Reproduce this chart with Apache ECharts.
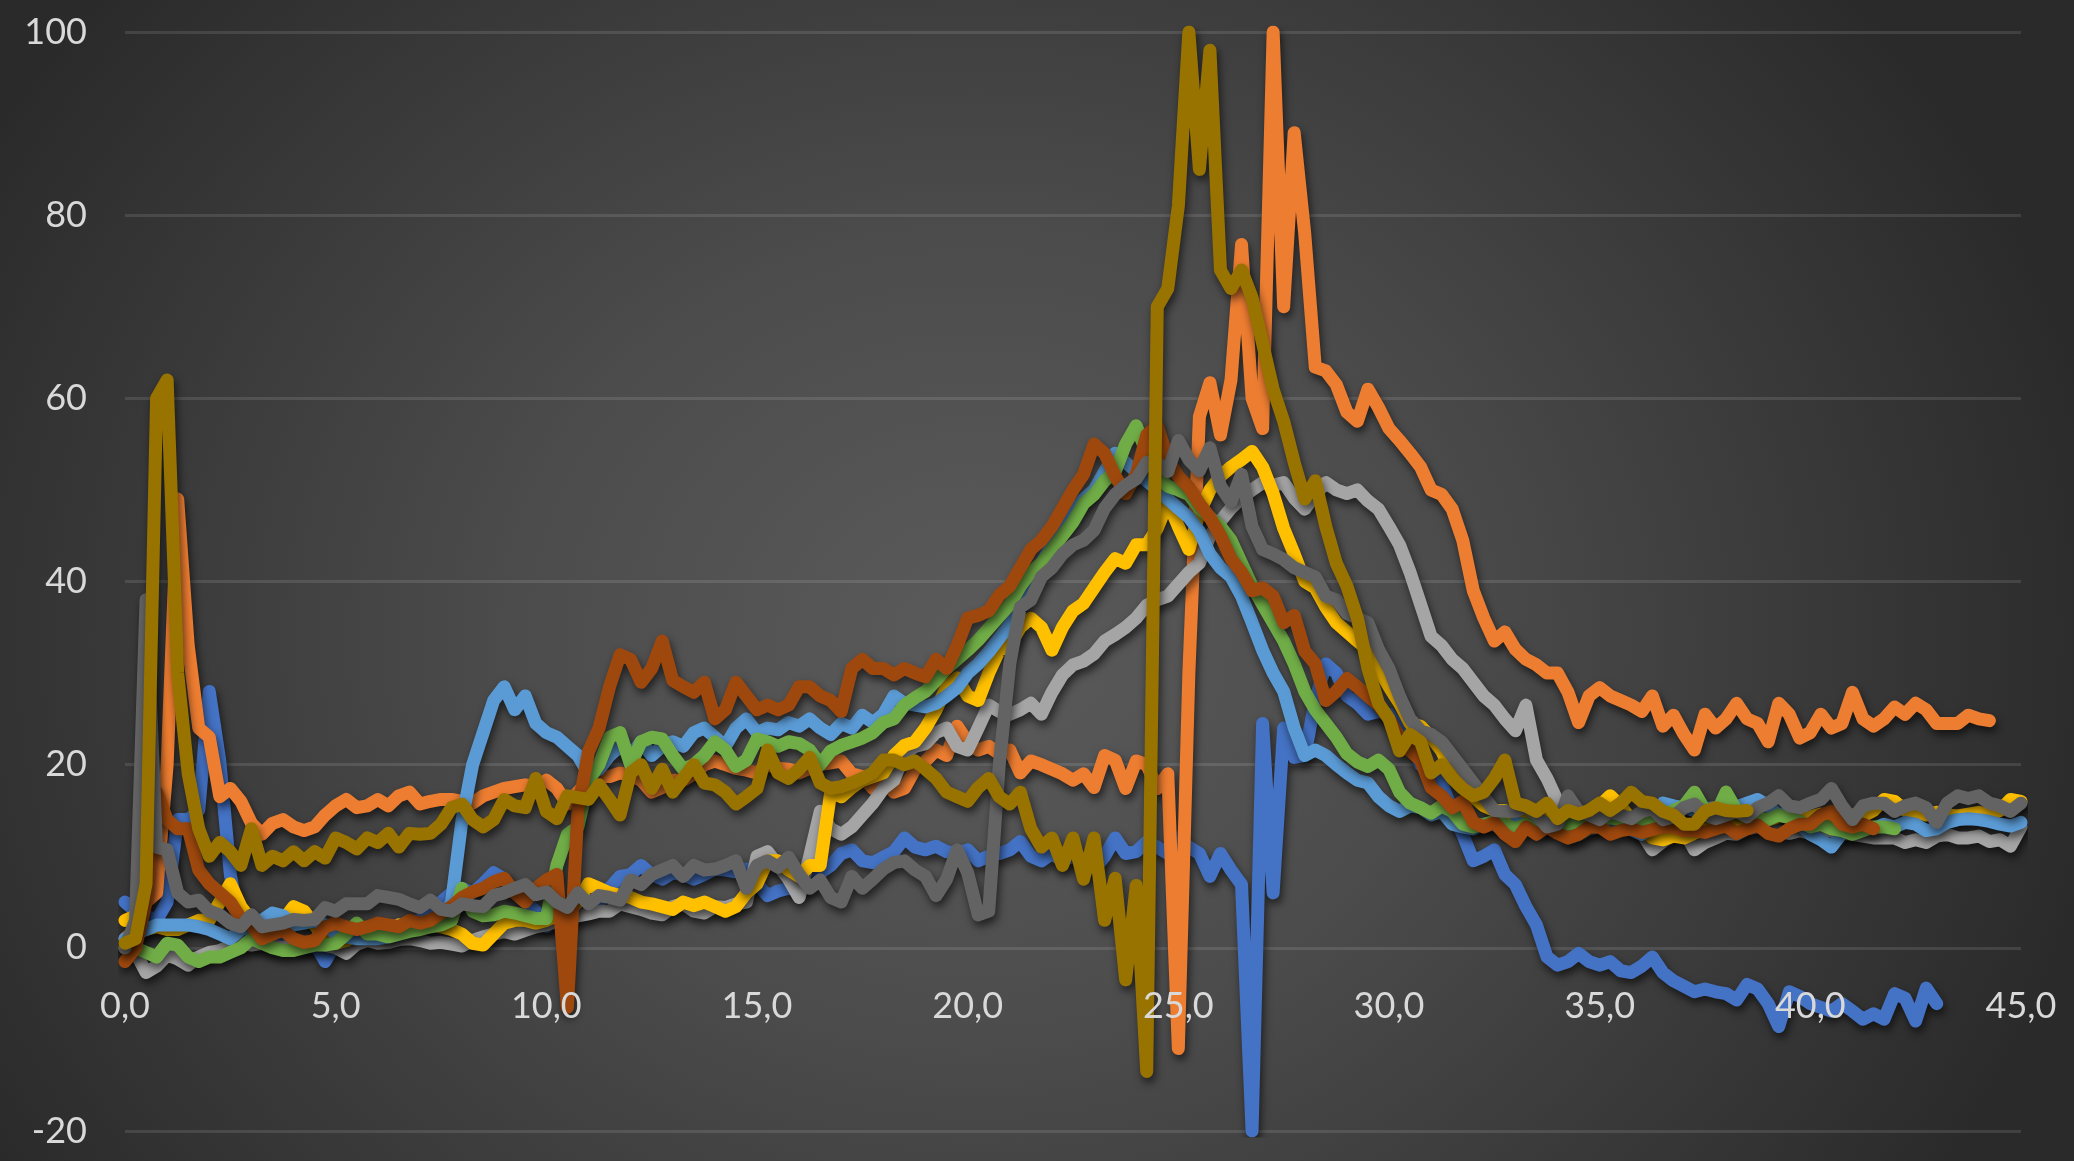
<!DOCTYPE html>
<html>
<head>
<meta charset="utf-8">
<title>Messreihen</title>
<script src="https://cdn.jsdelivr.net/npm/echarts@6/dist/echarts.min.js"></script>
<style>
  html, body { margin: 0; padding: 0; width: 2074px; height: 1161px; overflow: hidden; background: #2a2a2a; }
  #chart {
    width: 2074px; height: 1161px;
    background: radial-gradient(ellipse 1150px 1000px at 47% 55%, #5b5b5b 0%, #4c4c4c 40%, #2a2a2a 100%);
  }
</style>
</head>
<body>
<div id="chart"></div>
<script>
// Sampling interval of every series (seconds); sample i sits at t = i * STEP
const STEP = 0.25;

// Axis ranges and tick spacing
const X_RANGE = [0, 45, 5];
const Y_RANGE = [-20, 100, 20];

const seriesNames = ['Reihe1', 'Reihe2', 'Reihe3', 'Reihe4', 'Reihe5', 'Reihe6', 'Reihe8', 'Reihe9', 'Reihe10'];
const seriesColors = ['#4472C4', '#ED7D31', '#A5A5A5', '#FFC000', '#5B9BD5', '#70AD47', '#9E480E', '#636363', '#997300'];

// one row = 5 s of samples
const reihe1 = [
  5, 4, 3.5, 3, 5, 14, 14, 15, 28, 20.4, 8, 2, 1, 1.5, 0.5, 1, 0.5, 0, 0.5, -1.5,
  0.5, 1, 1.5, 1.2, 2, 2.3, 2.5, 2.8, 3, 4, 5, 6, 6.5, 6, 7, 8.2, 7.5, 6, 5, 4,
  2.3, 3, 3.5, 3.8, 4, 5, 6.5, 7.8, 8, 9, 8, 7.5, 8.2, 8, 7.5, 8, 8.6, 8.5, 8.3, 8.6,
  7, 5.7, 6.2, 6.5, 6.3, 7, 8.2, 9, 10.3, 10.7, 9.5, 9.3, 9.9, 10.5, 12, 11, 10.7, 11.1, 10.5, 10.3,
  10.7, 9.5, 10, 10.3, 10.7, 11.6, 10, 9.5, 10.3, 9.5, 10, 9.8, 8.6, 10, 12, 10.3, 10.5, 11.6, 11, 10.3,
  12, 11, 10.3, 7.8, 10.3, 8.5, 6.9, -20, 24.5, 6, 24, 20.8, 21, 27, 31, 30, 27.5, 26.7, 25.5, 25.8,
  25.5, 24, 23, 20, 19, 18, 15, 12.4, 9.5, 10, 10.7, 8, 6.9, 4.5, 2.5, -1, -1.9, -1.5, -0.6, -1.5,
  -1.9, -1.5, -2.5, -2.7, -2, -1, -2.7, -3.6, -4.2, -4.8, -4.5, -4.8, -5, -5.7, -4, -4.5, -6.1, -8.6, -4.8, -5.3,
  -6.1, -6.5, -6.9, -6.1, -6.9, -7.8, -7.2, -7.8, -5, -5.5, -8, -4.4, -6.1
];

const reihe2 = [
  1, 2, 5, 6, 20, 49, 33, 24, 23, 16.5, 17.4, 16, 13.6, 12.4, 13.6, 14, 13.2, 12.8, 13.2, 14.5,
  15.5, 16.2, 15.3, 15.5, 16.2, 15.5, 16.6, 17, 15.7, 16, 16.2, 16.2, 16, 15.8, 16.6, 17, 17.4, 17.6, 17.8, 17.6,
  18.3, 17.4, 15.7, 17, 18.3, 18.7, 18.7, 19.1, 18.8, 18.3, 17, 17.5, 18.3, 18.3, 19, 20, 20.4, 20, 19.6, 19.4,
  19.1, 20, 19.6, 19.5, 19.1, 19.6, 20, 20.2, 20.4, 19, 18.7, 17.4, 18.3, 17, 17.4, 19.5, 20.4, 21.6, 21, 24.2,
  22.5, 21.6, 22, 21.2, 21.6, 19.1, 20.4, 20, 19.5, 19, 18.3, 19, 17.5, 21, 20.5, 17.4, 20.4, 20, 17.4, 19,
  -11, 30, 58, 61.7, 56, 62, 76.8, 60, 56.7, 100, 70, 89, 78, 63.4, 63, 61.5, 58.5, 57.5, 61, 59,
  56.7, 55.4, 54, 52.5, 50, 49.5, 47.9, 44.5, 39, 36, 33.5, 34.5, 32.6, 31.5, 30.9, 30, 30, 27.9, 24.6, 27.5,
  28.4, 27.5, 27, 26.5, 25.8, 27.5, 24.2, 25.4, 23.3, 21.6, 25.5, 24, 25, 26.7, 25, 24.5, 22.5, 26.7, 25.5, 22.9,
  23.5, 25.5, 24, 24.5, 27.9, 25, 24.2, 25, 26.3, 25.5, 26.7, 26, 24.5, 24.5, 24.5, 25.4, 25, 24.8
];

const reihe3 = [
  0, -0.5, -2.7, -2, -0.8, -1.2, -1.9, -1, -0.5, -0.3, 0.2, 0.5, 0.3, 0.5, 0.2, 0, 0.4, 0.6, 0.5, 0.3,
  0, -0.6, 0.4, 0.8, 0.5, 0.6, 0.9, 1, 0.8, 0.5, 0.6, 0.4, 0.2, 0.8, 1.2, 1.5, 1.8, 1.5, 1.9, 2.3,
  2.5, 3, 3.3, 3.5, 3.7, 4, 4, 4.8, 4.5, 4.2, 3.8, 3.6, 4.5, 4.8, 4, 3.8, 4.5, 4.4, 4.8, 5,
  10, 10.5, 9, 7.5, 5.5, 10, 14.9, 13, 12.4, 13.2, 14.5, 15.8, 17.4, 18.3, 21.2, 22, 22.3, 23.5, 24, 22,
  21.6, 24, 26.5, 25.8, 25.5, 26, 26.7, 25.5, 27.9, 29.8, 30.9, 31.3, 32.1, 33.5, 34.2, 35, 36, 37.4, 38, 38.4,
  39.7, 41, 42, 45, 46.6, 48, 49.1, 50, 50.8, 50.5, 50.8, 49.1, 47.9, 49.5, 50.8, 50, 49.6, 50, 48.8, 47.9,
  46, 44, 41, 37.5, 34, 33, 31.5, 30.5, 29, 27.5, 26.5, 25, 23.7, 26.5, 20.5, 18.5, 16, 12, 12.4, 13,
  13.2, 13.5, 13.6, 13.5, 12.5, 10.7, 11.6, 12.4, 12.8, 10.7, 11.5, 12, 12.5, 12.4, 13, 13.2, 13, 12.8, 12.5, 12.8,
  12.5, 12.6, 12.8, 12.5, 12.4, 12.2, 12, 12, 12, 11.5, 11.8, 11.5, 12.2, 12.4, 12, 12, 12.2, 11.6, 11.8, 11.1, 13.2
];

const reihe4 = [
  3, 3.5, 2, 2.3, 2, 2, 2.5, 3, 3, 5, 7, 4.5, 3, 2.5, 2, 3, 4.5, 4, 2.5, 1,
  0.5, 0.8, 1.5, 2, 2, 1.5, 2.5, 2, 2.3, 2.5, 2.3, 2, 1.5, 0.5, 0.3, 1.5, 2.7, 3, 3, 2.7,
  3, 3.5, 4, 5, 7, 6.5, 6, 5.7, 5.5, 5, 4.8, 4.5, 4.2, 5, 4.6, 5, 4.5, 4, 4.5, 6,
  7, 9.5, 9.5, 8.5, 7.8, 9, 9, 17, 16.5, 17.5, 18.3, 18.7, 19.1, 21, 22.1, 22.5, 24, 26, 28.5, 29.5,
  27.5, 27, 30, 32.5, 33, 35, 36, 35, 32.5, 35, 36.8, 37.6, 39.3, 41, 42.5, 42, 44, 44, 45.8, 48.7,
  46, 43.5, 47.5, 50, 51.5, 52.5, 53.3, 54.2, 52.5, 49.6, 45.8, 43, 40, 39.3, 37.2, 35.5, 34.5, 33.5, 32.6, 30.5,
  28.5, 26.7, 24.5, 24.2, 23, 21.5, 19, 17.5, 16.5, 15.5, 15, 15, 14.5, 14.5, 14.2, 14, 13.6, 13.5, 14, 15,
  15.5, 16.6, 15.5, 14, 13, 12, 11.8, 12.2, 12, 12.5, 13, 13, 13.5, 13.5, 13.8, 14, 14, 14.3, 14.5, 14.2,
  14.3, 14.6, 14.5, 14.2, 14.5, 14.4, 15, 16.2, 16, 15, 14.8, 14.5, 14.8, 14.5, 14.4, 14.6, 14.8, 14.5, 15, 16.2, 16
];

const reihe5 = [
  1, 1.5, 2, 2.5, 2.5, 2.5, 2.5, 2.3, 2, 1.5, 1, 2, 2.5, 3, 3.8, 3.5, 2.5, 2.7, 3, 2.5,
  1.5, 1.2, 1, 1, 1, 1.2, 1.5, 2, 2.5, 3, 3, 5, 14, 20, 23.5, 27, 28.5, 26, 27.5, 24.5,
  23.5, 23, 22, 21, 19, 19.5, 21, 22, 21, 22.5, 21, 22, 22.5, 22, 23.5, 24, 23, 22, 24, 25,
  23.5, 24, 23.8, 24.6, 24.2, 25, 24, 23.3, 24.5, 24, 25.4, 24.6, 25.5, 27.5, 26.7, 26.5, 26.3, 26.7, 27.5, 28.4,
  30, 31, 32.3, 33.8, 35.3, 37.5, 40, 42, 44, 46, 47.5, 49, 50, 52, 54, 53, 52, 51, 50, 49,
  48, 47, 45.5, 43, 41.5, 40.5, 38.4, 35.5, 32.5, 30, 28, 24, 21, 21.6, 21, 20, 19.1, 18.3, 18, 16.5,
  15.5, 14.9, 15.5, 15.3, 14.5, 14.9, 13.5, 13.2, 13, 13.5, 13.4, 13, 13.6, 13.5, 13.2, 13.6, 13.8, 13.5, 14, 14,
  13.6, 13.8, 13.5, 12.9, 12.4, 14, 15.8, 15.5, 15.3, 15, 15.2, 15.3, 15, 15.4, 15.8, 16.2, 15.5, 14.5, 14.8, 13.5,
  12.4, 11.8, 11, 12.5, 13, 13.2, 13, 13.5, 13.2, 13.7, 13.5, 12.8, 13, 13.7, 14, 14.1, 14, 13.8, 13.5, 13.3, 13.7
];

const reihe6 = [
  0, 0, -0.5, -1, 0.5, 0.3, -1, -1.5, -1, -1, -0.5, 0, 1, 0.5, 0, -0.3, -0.3, 0, 0.3, 0.3,
  0.5, 1.5, 2.7, 1.5, 1.5, 1.2, 1.5, 1.8, 2, 2.3, 2.5, 3, 6.5, 4, 3.5, 3.6, 4, 3.8, 3.5, 3.2,
  3.2, 9, 12.4, 13.2, 18.3, 20, 23, 23.5, 20, 22.5, 23, 22.8, 21, 19.5, 20, 21, 22.5, 21.6, 19.8, 20.5,
  22.8, 22.5, 22, 22.5, 22.3, 21.6, 20, 21.5, 22.1, 22.5, 22.9, 23.5, 24.6, 25, 26.5, 27.3, 28, 29.2, 30.5, 31.5,
  32.5, 33.6, 34.9, 36.2, 37.5, 39.5, 41, 42, 43.5, 45, 46.5, 48.5, 49.5, 51, 52, 55, 57, 54, 51.5, 50.4,
  50, 49.5, 48, 47, 46, 44.5, 42, 39.5, 37.5, 35.5, 33.5, 31, 28, 26, 24.5, 23, 21.2, 20.3, 19.8, 20.5,
  19.5, 17, 15.8, 15.3, 14.7, 15.5, 14.9, 13.5, 13.2, 13.5, 13.8, 13.5, 13, 13.5, 13.4, 13.2, 13.6, 13.5, 13.8, 13.6,
  14, 14.2, 14, 14.3, 14, 14.2, 14.5, 15, 15.5, 17, 15, 14.5, 17, 15, 14.5, 14.2, 14, 14.5, 14.2, 13.8,
  13.2, 13.5, 13, 12.8, 12.4, 12.8, 13.2, 13.2, 13
];

const reihe8 = [
  -1.5, 0, 5, 17, 14, 13, 13, 8.5, 7, 6, 5, 3.2, 2.5, 1, 1.5, 1.9, 1, 0.6, 0.8, 2.3,
  2.7, 2.3, 2, 2.3, 2.7, 2.5, 2.3, 3, 2.7, 3, 3.8, 4.5, 5.5, 6.1, 6.5, 7.2, 7.6, 6, 5, 6.5,
  7.4, 8, -6.5, 15, 21.4, 24, 28.5, 32, 31.5, 29, 30.5, 33.5, 29.2, 28.5, 27.9, 29, 25, 26, 29, 27.5,
  26, 26.5, 26, 26.5, 28.5, 28.5, 27.5, 27, 25.8, 30.5, 31.5, 30.5, 30.5, 29.8, 30.5, 30, 29.6, 31.5, 30.5, 33,
  36, 36.3, 36.8, 38.5, 39.5, 41.5, 43.5, 44.5, 46, 48, 50, 51.7, 55, 54, 51.5, 49.6, 51.7, 56, 57, 53.4,
  51.5, 50.3, 48.5, 47, 45, 42.5, 41, 39, 39.3, 38.4, 35.5, 36.3, 32.4, 31, 27, 28, 29.4, 28.5, 27.5, 26.5,
  25, 23, 21.5, 20.5, 17.5, 16.6, 15.3, 16, 13.7, 13.2, 13.7, 12.4, 11.6, 13.2, 12.4, 13.2, 12.5, 12, 12.4, 13.2,
  13.2, 12.4, 12.8, 13, 12.6, 12.9, 13.2, 13.2, 12.8, 12.8, 12.6, 13, 13.3, 12.5, 13, 13.4, 12.5, 12.2, 13, 13.5,
  13.5, 14.5, 14.9, 13.5, 13.2, 13.5, 13
];

const reihe9 = [
  0, 3, 38, 11, 10.7, 6, 5, 5.2, 4, 3.6, 2.7, 2.3, 3.6, 2.3, 2.5, 2.7, 3.1, 3, 3.1, 4.4,
  4, 4.8, 4.8, 4.8, 5.7, 5.5, 5.3, 4.8, 4.4, 5.2, 4.2, 4, 4.8, 4.6, 4.5, 5.7, 6, 6.5, 6.9, 5.8,
  6.1, 5, 4.4, 6, 4.8, 5.7, 5.5, 5.2, 7.4, 6.9, 8, 8.5, 9, 7.8, 9, 8.5, 8.6, 9, 9.5, 6.5,
  9, 9.5, 8.8, 9.9, 8, 6.5, 7.4, 5.5, 5, 7.8, 6.5, 7.5, 8.6, 9.3, 9.5, 8.5, 7.8, 5.7, 7.5, 10.7,
  8.2, 3.6, 4, 20, 31, 37.2, 38, 40.5, 41.5, 43, 44, 44.5, 45.6, 48, 49.5, 50.5, 51.2, 53, 53, 52,
  55.4, 53.3, 52.1, 54.6, 50.4, 48.7, 51.7, 46, 43.5, 43, 42.4, 41.5, 41, 40.5, 38.4, 38, 36.5, 36, 35.5, 32.6,
  30.5, 27.5, 25, 23.7, 23.3, 22.5, 21, 19.5, 18, 16.5, 15, 14.9, 14.9, 15.5, 14.5, 13.2, 13.5, 16.6, 14.9, 14.5,
  14, 14.9, 14.5, 14.1, 14.9, 15.2, 14, 14.3, 15.3, 15.7, 14.5, 14.1, 14.5, 14.9, 14.3, 15.3, 15.8, 16.6, 15.5, 15.3,
  15.8, 16.2, 17.4, 15.5, 14, 15.5, 15.8, 15.8, 14.9, 15.5, 15.8, 15.3, 13.7, 15.8, 16.6, 16.3, 16.6, 15.8, 15.5, 14.9, 15.8
];

const reihe10 = [
  0.5, 1, 7, 60, 62, 30, 19, 13, 10, 11.5, 10.5, 9, 13, 9, 10, 9.5, 10.5, 9.5, 10.5, 9.8,
  12, 11.5, 10.8, 12, 11.5, 12.5, 11, 12.5, 12.4, 12.5, 13.5, 15.3, 15.7, 14, 13.2, 14, 16.2, 15.5, 15.3, 18.5,
  14.9, 14.1, 16.6, 16.4, 16.2, 17.8, 16.2, 14.5, 19.1, 20, 17.4, 19.5, 17, 18.5, 20, 18, 17.8, 17, 15.7, 16.5,
  17.4, 21.6, 19.1, 18.5, 19.5, 20.8, 18, 17.4, 17.6, 18, 18.5, 19.1, 20.5, 20.5, 20, 20.4, 19.5, 18.5, 17, 16.5,
  16, 17.5, 18.5, 16.5, 15.7, 17, 13, 11, 12, 9, 12, 7.5, 12, 3, 7.6, -3.5, 6.8, -13.5, 70, 72,
  81, 100, 85, 98, 74, 72, 74, 71, 66, 61, 57.5, 53, 49, 51, 46, 42, 39.5, 36, 30.5, 26.7,
  25, 21.5, 23.3, 22.5, 19.1, 20, 18.5, 17.4, 16.6, 17, 18.5, 20.5, 15.8, 15.5, 14.9, 15.8, 14.1, 15, 14.6, 15,
  15.8, 15, 15.8, 17, 16, 15.8, 14.9, 14.5, 13.5, 13.5, 14.9, 15.3, 15, 14.9, 15
];

const seriesValues = [reihe1, reihe2, reihe3, reihe4, reihe5, reihe6, reihe8, reihe9, reihe10];

// plot area in pixels
const GRID = { left: 125, right: 53, top: 32, bottom: 30 };
const CHART_H = 1161;
const plotH = CHART_H - GRID.top - GRID.bottom;
// the time axis crosses the value axis at 0: shift it up from the bottom edge
const xAxisOffset = -plotH * (0 - Y_RANGE[0]) / (Y_RANGE[1] - Y_RANGE[0]);

const fmtComma = v => v.toFixed(1).replace('.', ',');
const labelStyle = { color: '#d9d9d9', fontSize: 36, fontFamily: 'Lato, "Open Sans", sans-serif' };
const gridColor = 'rgba(255,255,255,0.11)';

const chart = echarts.init(document.getElementById('chart'), null, { renderer: 'canvas' });

chart.setOption({
  backgroundColor: 'transparent',
  animation: false,
  grid: Object.assign({ containLabel: false, outerBoundsMode: 'none' }, GRID),
  xAxis: {
    type: 'value',
    position: 'bottom',
    offset: xAxisOffset,
    z: 10,
    min: X_RANGE[0], max: X_RANGE[1], interval: X_RANGE[2],
    axisLine: { show: false, onZero: false },
    axisTick: { show: false },
    splitLine: { show: false },
    axisLabel: Object.assign({ margin: 41, formatter: fmtComma }, labelStyle)
  },
  yAxis: {
    type: 'value',
    min: Y_RANGE[0], max: Y_RANGE[1], interval: Y_RANGE[2],
    axisLine: { show: false, onZero: false },
    axisTick: { show: false },
    splitLine: { show: true, lineStyle: { color: gridColor, width: 3 } },
    axisLabel: Object.assign({ margin: 38 }, labelStyle)
  },
  series: seriesValues.map((vals, k) => ({
    name: seriesNames[k],
    type: 'line',
    showSymbol: false,
    symbol: 'none',
    clip: true,
    data: vals.map((v, i) => [i * STEP, v]),
    lineStyle: {
      color: seriesColors[k],
      width: 13,
      cap: 'round',
      join: 'round',
      shadowColor: 'rgba(0,0,0,0.6)',
      shadowBlur: 9,
      shadowOffsetX: 2,
      shadowOffsetY: 5
    },
    itemStyle: { color: seriesColors[k] },
    emphasis: { disabled: true }
  }))
});
</script>
</body>
</html>
